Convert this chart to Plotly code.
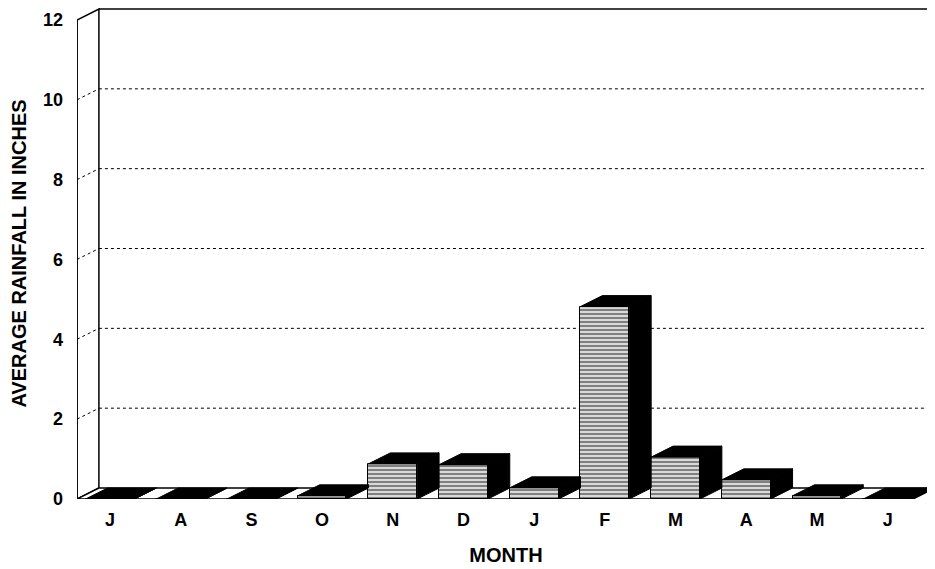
import plotly.graph_objects as go

months = ["J", "A", "S", "O", "N", "D", "J", "F", "M", "A", "M", "J"]
rainfall = [0.0, 0.0, 0.0, 0.08, 0.88, 0.86, 0.28, 4.82, 1.05, 0.48, 0.08, 0.0]
y_ticks = [0, 2, 4, 6, 8, 10, 12]

# 3D look parameters (depth offset in data units)
DX = 0.31     # depth shift along x (category units)
DY = 0.275    # depth shift along y (value units)
BAR_W = 0.69
X0 = -0.467   # front-left corner of the box
X1 = 11.36    # front-right corner of the floor
XR = 11.67    # right edge of the view
YMAX = 12

n = len(months)
xs = list(range(n))

fig = go.Figure()

# front faces of bars
fig.add_trace(go.Bar(
    x=xs, y=rainfall, width=BAR_W,
    marker=dict(color="white",
                line=dict(color="black", width=1),
                pattern=dict(shape="-", fgcolor="black", bgcolor="white",
                             size=4, solidity=0.65)),
    hoverinfo="skip", showlegend=False))

# top and side faces
tx, ty, sx, sy = [], [], [], []
for i, v in enumerate(rainfall):
    l, r = i - BAR_W / 2, i + BAR_W / 2
    tx += [l, r, r + DX, l + DX, l, None]
    ty += [v, v, v + DY, v + DY, v, None]
    sx += [r, r + DX, r + DX, r, r, None]
    sy += [0, DY, v + DY, v, 0, None]
fig.add_trace(go.Scatter(x=sx, y=sy, mode="lines", fill="toself",
                         fillcolor="black", line=dict(color="black", width=1),
                         hoverinfo="skip", showlegend=False))
fig.add_trace(go.Scatter(x=tx, y=ty, mode="lines", fill="toself",
                         fillcolor="black", line=dict(color="black", width=1),
                         hoverinfo="skip", showlegend=False))

shapes = []
# side wall
shapes.append(dict(type="path", xref="x", yref="y", layer="below",
                   path=f"M{X0},0 L{X0+DX},{DY} L{X0+DX},{YMAX+DY} L{X0},{YMAX} Z",
                   line=dict(color="black", width=1.5), fillcolor="white"))
# back wall top edge
shapes.append(dict(type="line", xref="x", yref="y", layer="below",
                   x0=X0 + DX, y0=YMAX + DY, x1=XR + 0.1, y1=YMAX + DY,
                   line=dict(color="black", width=1.5)))
# gridlines (back wall + side wall)
for t in y_ticks[1:-1]:
    shapes.append(dict(type="line", xref="x", yref="y", layer="below",
                       x0=X0 + DX, y0=t + DY, x1=XR + 0.1, y1=t + DY,
                       line=dict(color="black", width=1, dash="dot")))
    shapes.append(dict(type="line", xref="x", yref="y", layer="below",
                       x0=X0, y0=t, x1=X0 + DX, y1=t + DY,
                       line=dict(color="black", width=1, dash="dot")))
# floor
shapes.append(dict(type="path", xref="x", yref="y", layer="below",
                   path=f"M{X0},0 L{X1},0 L{X1+DX},{DY} L{X0+DX},{DY} Z",
                   line=dict(color="black", width=1.5), fillcolor="white"))
# front-left vertical edge
shapes.append(dict(type="line", xref="x", yref="y", layer="above",
                   x0=X0, y0=0, x1=X0, y1=YMAX,
                   line=dict(color="black", width=1.5)))

font = dict(family="Liberation Sans, Arial, sans-serif", size=18,
            color="black", weight="bold")

fig.update_layout(
    width=927, height=561,
    margin=dict(l=69, r=0, t=0, b=70),
    paper_bgcolor="white", plot_bgcolor="white",
    shapes=shapes, bargap=0, showlegend=False,
    font=font,
    xaxis=dict(range=[X0, XR], tickvals=xs, ticktext=months,
               showgrid=False, zeroline=False, showline=False,
               ticks="", ticklabelstandoff=8, tickfont=font,
               title=dict(text="MONTH", font=dict(font, size=20), standoff=18),
               automargin=False),
    yaxis=dict(range=[0, 12.3], tickvals=y_ticks,
               showgrid=False, zeroline=False, showline=False,
               ticks="", ticklabelstandoff=13, tickfont=font,
               title=dict(text="AVERAGE RAINFALL IN INCHES",
                          font=dict(font, size=20), standoff=10),
               automargin=False),
)

fig.write_html("out.html")
